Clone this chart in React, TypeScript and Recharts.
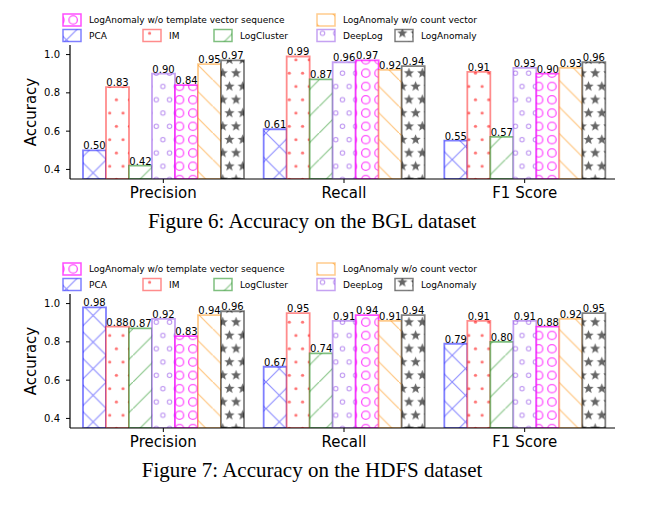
import React from "react";
import { BarChart, Bar, XAxis, YAxis, LabelList } from "recharts";

// categories and series names
const metrics = ["Precision", "Recall", "F1 Score"];
const methodNames = [
  "PCA",
  "IM",
  "LogCluster",
  "DeepLog",
  "LogAnomaly w/o template vector sequence",
  "LogAnomaly w/o count vector",
  "LogAnomaly",
];
const yTicks = [0.4, 0.6, 0.8, 1.0];

// Figure 6: BGL
const bglPca = [0.5, 0.61, 0.55];
const bglIm = [0.83, 0.99, 0.91];
const bglLogCluster = [0.42, 0.87, 0.57];
const bglDeepLog = [0.9, 0.96, 0.93];
const bglNoTemplate = [0.84, 0.97, 0.9];
const bglNoCount = [0.95, 0.92, 0.93];
const bglLogAnomaly = [0.97, 0.94, 0.96];

// Figure 7: HDFS
const hdfsPca = [0.98, 0.67, 0.79];
const hdfsIm = [0.88, 0.95, 0.91];
const hdfsLogCluster = [0.87, 0.74, 0.8];
const hdfsDeepLog = [0.92, 0.91, 0.91];
const hdfsNoTemplate = [0.83, 0.94, 0.88];
const hdfsNoCount = [0.94, 0.91, 0.92];
const hdfsLogAnomaly = [0.96, 0.94, 0.95];

const bglSeries = [bglPca, bglIm, bglLogCluster, bglDeepLog, bglNoTemplate, bglNoCount, bglLogAnomaly];
const hdfsSeries = [hdfsPca, hdfsIm, hdfsLogCluster, hdfsDeepLog, hdfsNoTemplate, hdfsNoCount, hdfsLogAnomaly];

// look of each series (same order as methodNames)
const styles = [
  { key: "pca", stroke: "rgba(0,0,255,0.5)", pattern: "hatch-x" },
  { key: "im", stroke: "rgba(255,0,0,0.45)", pattern: "hatch-dot" },
  { key: "logcluster", stroke: "rgba(0,128,0,0.5)", pattern: "hatch-slash" },
  { key: "deeplog", stroke: "rgba(140,70,230,0.5)", pattern: "hatch-o" },
  { key: "notemplate", stroke: "rgba(255,0,255,0.7)", pattern: "hatch-O" },
  { key: "nocount", stroke: "rgba(255,140,0,0.45)", pattern: "hatch-back" },
  { key: "loganomaly", stroke: "rgba(0,0,0,0.5)", pattern: "hatch-star" },
];

// legend layout: [series index, column]
const legendRow1 = [[4, 0], [5, 3]];
const legendRow2 = [[0, 0], [1, 1], [2, 2], [3, 3], [6, 4]];
const legendCols = [63, 143, 214, 317, 395];

const FONT = "DejaVu Sans";
const U = 13.3;

const buildRows = (series: number[][]) =>
  metrics.map((m, i) => {
    const row: any = { metric: m };
    styles.forEach((s, k) => (row[s.key] = series[k][i]));
    return row;
  });

const starPath = (cx: number, cy: number, ro: number, ri: number) => {
  let d = "";
  for (let i = 0; i < 10; i++) {
    const r = i % 2 === 0 ? ro : ri;
    const a = -Math.PI / 2 + (i * Math.PI) / 5;
    d += (i === 0 ? "M" : "L") + (cx + r * Math.cos(a)).toFixed(2) + "," + (cy + r * Math.sin(a)).toFixed(2);
  }
  return d + "Z";
};

const STAR = "rgba(0,0,0,0.6)";

const Patterns = () => (
  <svg width={0} height={0} style={{ position: "absolute" }}>
    <defs>
      <pattern id="hatch-x" patternUnits="userSpaceOnUse" width={2 * U} height={2 * U}>
        <rect width={2 * U} height={2 * U} fill="#fff" />
        <path d={`M0,0L${2 * U},${2 * U}M0,${2 * U}L${2 * U},0`} stroke="rgba(0,0,255,0.45)" strokeWidth={1.1} />
      </pattern>
      <pattern id="hatch-slash" patternUnits="userSpaceOnUse" width={2 * U} height={2 * U}>
        <rect width={2 * U} height={2 * U} fill="#fff" />
        <path d={`M0,${2 * U}L${2 * U},0`} stroke="rgba(0,128,0,0.45)" strokeWidth={1.2} />
      </pattern>
      <pattern id="hatch-back" patternUnits="userSpaceOnUse" width={2 * U} height={2 * U}>
        <rect width={2 * U} height={2 * U} fill="#fff" />
        <path d={`M0,0L${2 * U},${2 * U}`} stroke="rgba(255,140,0,0.5)" strokeWidth={1.2} />
      </pattern>
      <pattern id="hatch-dot" patternUnits="userSpaceOnUse" width={U} height={2 * U}>
        <rect width={U} height={2 * U} fill="#fff" />
        <circle cx={U / 4} cy={U / 2} r={1.6} fill="rgba(255,0,0,0.55)" />
        <circle cx={(3 * U) / 4} cy={(3 * U) / 2} r={1.6} fill="rgba(255,0,0,0.55)" />
      </pattern>
      <pattern id="hatch-o" patternUnits="userSpaceOnUse" width={U} height={2 * U}>
        <rect width={U} height={2 * U} fill="#fff" />
        <circle cx={U / 4} cy={U / 2} r={2.2} fill="none" stroke="rgba(140,70,230,0.6)" strokeWidth={1} />
        <circle cx={(3 * U) / 4} cy={(3 * U) / 2} r={2.2} fill="none" stroke="rgba(140,70,230,0.6)" strokeWidth={1} />
      </pattern>
      <pattern id="hatch-O" patternUnits="userSpaceOnUse" width={U} height={U}>
        <rect width={U} height={U} fill="#fff" />
        <circle cx={U / 2} cy={U / 2} r={4.2} fill="none" stroke="rgba(255,0,255,0.7)" strokeWidth={1.3} />
      </pattern>
      <pattern id="hatch-star" patternUnits="userSpaceOnUse" width={U} height={2 * U}>
        <rect width={U} height={2 * U} fill="#fff" />
        <path d={starPath(U / 4, U / 2, 5.4, 2.3)} fill={STAR} />
        <path d={starPath(U / 4 + U, U / 2, 5.4, 2.3)} fill={STAR} />
        <path d={starPath((3 * U) / 4, (3 * U) / 2, 5.4, 2.3)} fill={STAR} />
        <path d={starPath((3 * U) / 4 - U, (3 * U) / 2, 5.4, 2.3)} fill={STAR} />
      </pattern>
    </defs>
  </svg>
);

const LegendBlock = () => {
  const item = (idx: number, col: number, cy: number) => (
    <g key={idx}>
      <rect
        x={legendCols[col]}
        y={cy - 6}
        width={18}
        height={12}
        fill={`url(#${styles[idx].pattern})`}
        stroke={styles[idx].stroke}
        strokeWidth={1.5}
      />
      <text x={legendCols[col] + 26} y={cy} dominantBaseline="central" fontSize={9} fontFamily={FONT} fill="#000">
        {methodNames[idx]}
      </text>
    </g>
  );
  return (
    <svg width={651} height={45} style={{ position: "absolute", left: 0, top: 0 }}>
      {legendRow1.map(([i, c]) => item(i, c, 20))}
      {legendRow2.map(([i, c]) => item(i, c, 35.5))}
    </svg>
  );
};

const Panel = ({ series, caption, top }: { series: number[][]; caption: string; top: number }) => {
  const data = buildRows(series);
  return (
    <div style={{ position: "absolute", left: 0, top, width: 651, height: 250 }}>
      <LegendBlock />
      <BarChart
        width={651}
        height={209}
        data={data}
        margin={{ top: 45, right: 36, left: 0, bottom: 0 }}
        barCategoryGap={10}
        barGap={0}
        style={{ fontFamily: FONT }}
      >
        <XAxis
          dataKey="metric"
          height={30}
          padding={{ left: 3, right: 0 }}
          tick={{ fontSize: 15, fill: "#000" }}
          tickSize={4}
          tickMargin={4}
          axisLine={{ stroke: "#000", strokeWidth: 1.2 }}
          tickLine={{ stroke: "#000" }}
        />
        <XAxis
          xAxisId="top"
          dataKey="metric"
          orientation="top"
          height={0}
          tick={false}
          tickLine={false}
          axisLine={{ stroke: "#000", strokeWidth: 1.2 }}
        />
        <YAxis
          domain={[0.35, 1.05]}
          ticks={yTicks}
          allowDataOverflow
          width={70}
          tickFormatter={(v: number) => v.toFixed(1)}
          tick={{ fontSize: 10, fill: "#000" }}
          tickSize={4}
          tickMargin={6}
          axisLine={{ stroke: "#000", strokeWidth: 1.2 }}
          tickLine={{ stroke: "#000" }}
          label={{ value: "Accuracy", angle: -90, position: "center", dx: -4.5, fontSize: 15, fill: "#000" }}
        />
        <YAxis
          yAxisId="right"
          orientation="right"
          domain={[0.35, 1.05]}
          width={0}
          tick={false}
          tickLine={false}
          axisLine={{ stroke: "#000", strokeWidth: 1.2 }}
        />
        {styles.map((s) => (
          <Bar
            key={s.key}
            dataKey={s.key}
            fill={`url(#${s.pattern})`}
            stroke={s.stroke}
            strokeWidth={1.8}
            isAnimationActive={false}
          >
            <LabelList
              dataKey={s.key}
              position="top"
              offset={1}
              formatter={(v: any) => Number(v).toFixed(2)}
              fontSize={10}
              fill="#000"
            />
          </Bar>
        ))}
      </BarChart>
      <svg width={651} height={40} style={{ position: "absolute", left: 0, top: 205 }}>
        <text x={312} y={23} textAnchor="middle" fontSize={21} fontFamily="Liberation Serif" fill="#000">
          {caption}
        </text>
      </svg>
    </div>
  );
};

export default function App() {
  return (
    <div style={{ position: "absolute", left: 0, top: 0, width: 651, height: 505, background: "#fff" }}>
      <Patterns />
      <Panel series={bglSeries} caption="Figure 6: Accuracy on the BGL dataset" top={0} />
      <Panel series={hdfsSeries} caption="Figure 7: Accuracy on the HDFS dataset" top={249} />
    </div>
  );
}
